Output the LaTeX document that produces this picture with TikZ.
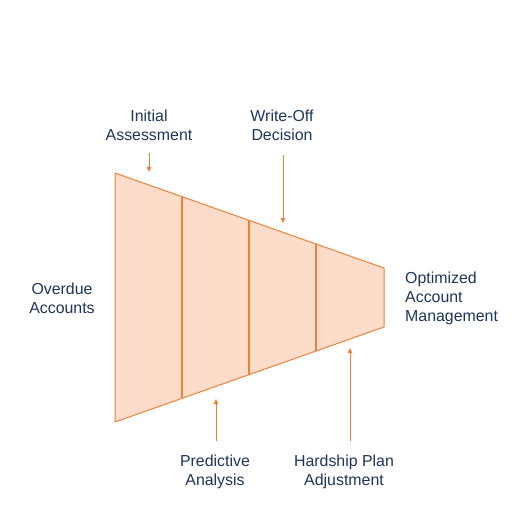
\documentclass[tikz,border=0pt]{standalone}
\usepackage{fontspec}
\setmainfont{Liberation Sans}
\usetikzlibrary{arrows.meta}
\definecolor{edge}{HTML}{E8823A}
\definecolor{fillc}{HTML}{FDDDCA}
\definecolor{txt}{HTML}{1C355A}
\begin{document}
\begin{tikzpicture}[x=1pt,y=-1pt,
  lbl/.style={text=txt,font=\fontsize{15.9}{19}\selectfont,align=center,inner sep=0pt},
  lbll/.style={text=txt,font=\fontsize{15.9}{19}\selectfont,align=left,inner sep=0pt},
  arr/.style={draw=edge,line width=0.9pt,-{Triangle[length=5pt,width=4.5pt]}},
  seg/.style={draw=edge,line width=1pt,fill=fillc,line join=round}]
\useasboundingbox (0,0) rectangle (529,529);
% funnel segments
\coordinate (t0) at (115,173); \coordinate (b0) at (115,422);
\coordinate (t1) at (182,196.7); \coordinate (b1) at (182,398.3);
\coordinate (t2) at (249,220.4); \coordinate (b2) at (249,374.6);
\coordinate (t3) at (316,244.0); \coordinate (b3) at (316,351.0);
\coordinate (t4) at (384,268); \coordinate (b4) at (384,327);
\path[fill=fillc] (t0) -- (t4) -- (b4) -- (b0) -- cycle;
\draw[edge,line width=1pt,line join=round] (t0) -- (t4) -- (b4) -- (b0) -- cycle;
\draw[edge,line width=1.6pt] (t1) -- (b1) (t2) -- (b2) (t3) -- (b3);
% labels
\node[lbl] (ia) at (149,125.5) {Initial\\Assessment};
\node[lbl] (wo) at (282,125.5) {Write-Off\\Decision};
\node[lbl] (oa) at (62,298.5) {Overdue\\Accounts};
\node[lbll,anchor=west] (om) at (405,298.5) {Optimized\\Account\\Management};
\node[lbl] (pa) at (215,471.5) {Predictive\\Analysis};
\node[lbl] (hp) at (344,471.5) {Hardship Plan\\Adjustment};
% arrows
\coordinate (iaS) at (149,153); \coordinate (iaE) at (149,172);
\coordinate (woS) at (283,155); \coordinate (woE) at (283,223);
\coordinate (paS) at (216,441); \coordinate (paE) at (216,399);
\coordinate (hpS) at (350,441); \coordinate (hpE) at (350,348);
\draw[arr] (iaS) -- (iaE);
\draw[arr] (woS) -- (woE);
\draw[arr] (paS) -- (paE);
\draw[arr] (hpS) -- (hpE);
\end{tikzpicture}
\end{document}
